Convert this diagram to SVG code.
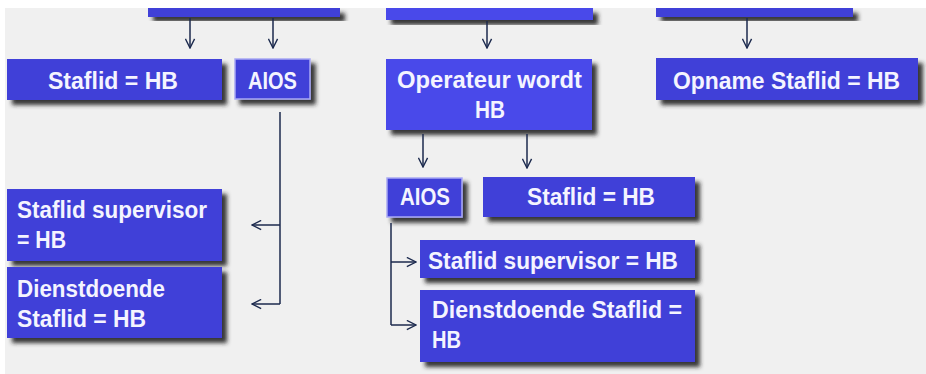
<svg xmlns="http://www.w3.org/2000/svg" width="926" height="374" viewBox="0 0 926 374">
<defs>
<filter id="sh" x="-10%" y="-20%" width="130%" height="160%">
<feDropShadow dx="5" dy="5" stdDeviation="2" flood-color="#222222" flood-opacity="0.9"/>
</filter>
<marker id="ah" viewBox="0 0 12 12" refX="11" refY="6" markerWidth="11" markerHeight="11" markerUnits="userSpaceOnUse" orient="auto">
<path d="M1,1 L11,6 L1,11" fill="none" stroke="#1c2a4e" stroke-width="1.5"/>
</marker>
</defs>
<style>
.b{fill:#4040d8;filter:url(#sh)}
.l{fill:#4949ea;filter:url(#sh)}
.a{fill:#4040d8;stroke:#a8a8f4;stroke-width:1.5;filter:url(#sh)}
text{font-family:"Liberation Sans",Arial,sans-serif;font-weight:bold;font-size:23.5px;fill:#f4f4ff}
.c{stroke:#1c2a4e;stroke-width:1.5;fill:none}
.m{marker-end:url(#ah)}
</style>
<rect width="926" height="374" fill="#ffffff"/>
<rect x="5" y="8" width="921" height="366" fill="#f0f0f0"/>

<g id="top-left"><rect class="b" x="148" y="8" width="192" height="9"/></g>
<g id="top-middle"><rect class="l" x="386" y="8" width="207" height="12"/></g>
<g id="top-right"><rect class="b" x="656" y="8" width="197" height="9"/></g>

<g id="staflid-hb-1"><rect class="b" x="7" y="59" width="215" height="41"/><text x="48" y="89" textLength="130" lengthAdjust="spacingAndGlyphs">Staflid = HB</text></g>
<g id="aios-1"><rect class="a" x="235" y="59" width="75" height="40"/><text x="248" y="89" textLength="49" lengthAdjust="spacingAndGlyphs">AIOS</text></g>
<g id="operateur"><rect class="l" x="386" y="59" width="206" height="71"/><text x="397" y="88" textLength="185" lengthAdjust="spacingAndGlyphs">Operateur wordt</text><text x="475" y="118" textLength="30" lengthAdjust="spacingAndGlyphs">HB</text></g>
<g id="opname"><rect class="b" x="656" y="58" width="262" height="42"/><text x="673" y="89" textLength="227" lengthAdjust="spacingAndGlyphs">Opname Staflid = HB</text></g>

<g id="staflid-supervisor-1"><rect class="b" x="7" y="189" width="215" height="72"/><text x="17" y="218" textLength="190" lengthAdjust="spacingAndGlyphs">Staflid supervisor</text><text x="17" y="248" textLength="49" lengthAdjust="spacingAndGlyphs">= HB</text></g>
<g id="dienstdoende-1"><rect class="b" x="7" y="267" width="215" height="71"/><text x="17" y="297" textLength="148" lengthAdjust="spacingAndGlyphs">Dienstdoende</text><text x="17" y="327" textLength="129" lengthAdjust="spacingAndGlyphs">Staflid = HB</text></g>

<g id="aios-2"><rect class="a" x="387" y="178" width="75" height="39"/><text x="400" y="205" textLength="50" lengthAdjust="spacingAndGlyphs">AIOS</text></g>
<g id="staflid-hb-2"><rect class="b" x="483" y="177" width="212" height="40"/><text x="527" y="205" textLength="128" lengthAdjust="spacingAndGlyphs">Staflid = HB</text></g>
<g id="staflid-supervisor-2"><rect class="b" x="420" y="240" width="275" height="38"/><text x="428" y="269" textLength="250" lengthAdjust="spacingAndGlyphs">Staflid supervisor = HB</text></g>
<g id="dienstdoende-2"><rect class="b" x="420" y="290" width="275" height="72"/><text x="432" y="318" textLength="250" lengthAdjust="spacingAndGlyphs">Dienstdoende Staflid =</text><text x="432" y="348" textLength="29" lengthAdjust="spacingAndGlyphs">HB</text></g>

<g id="connectors">
<line class="c m" x1="190" y1="18" x2="190" y2="48"/>
<line class="c m" x1="273" y1="18" x2="273" y2="48"/>
<line class="c m" x1="487" y1="21" x2="487" y2="48"/>
<line class="c m" x1="747" y1="18" x2="747" y2="48"/>
<line class="c m" x1="423" y1="134" x2="423" y2="167"/>
<line class="c m" x1="527" y1="134" x2="527" y2="168"/>
<polyline class="c" points="280,112 280,304"/>
<polyline class="c m" points="280,225 252,225"/>
<polyline class="c m" points="280,304 252,304"/>
<polyline class="c" points="391,223 391,325"/>
<polyline class="c m" points="391,262 416,262"/>
<polyline class="c m" points="391,325 416,325"/>
</g>
</svg>
